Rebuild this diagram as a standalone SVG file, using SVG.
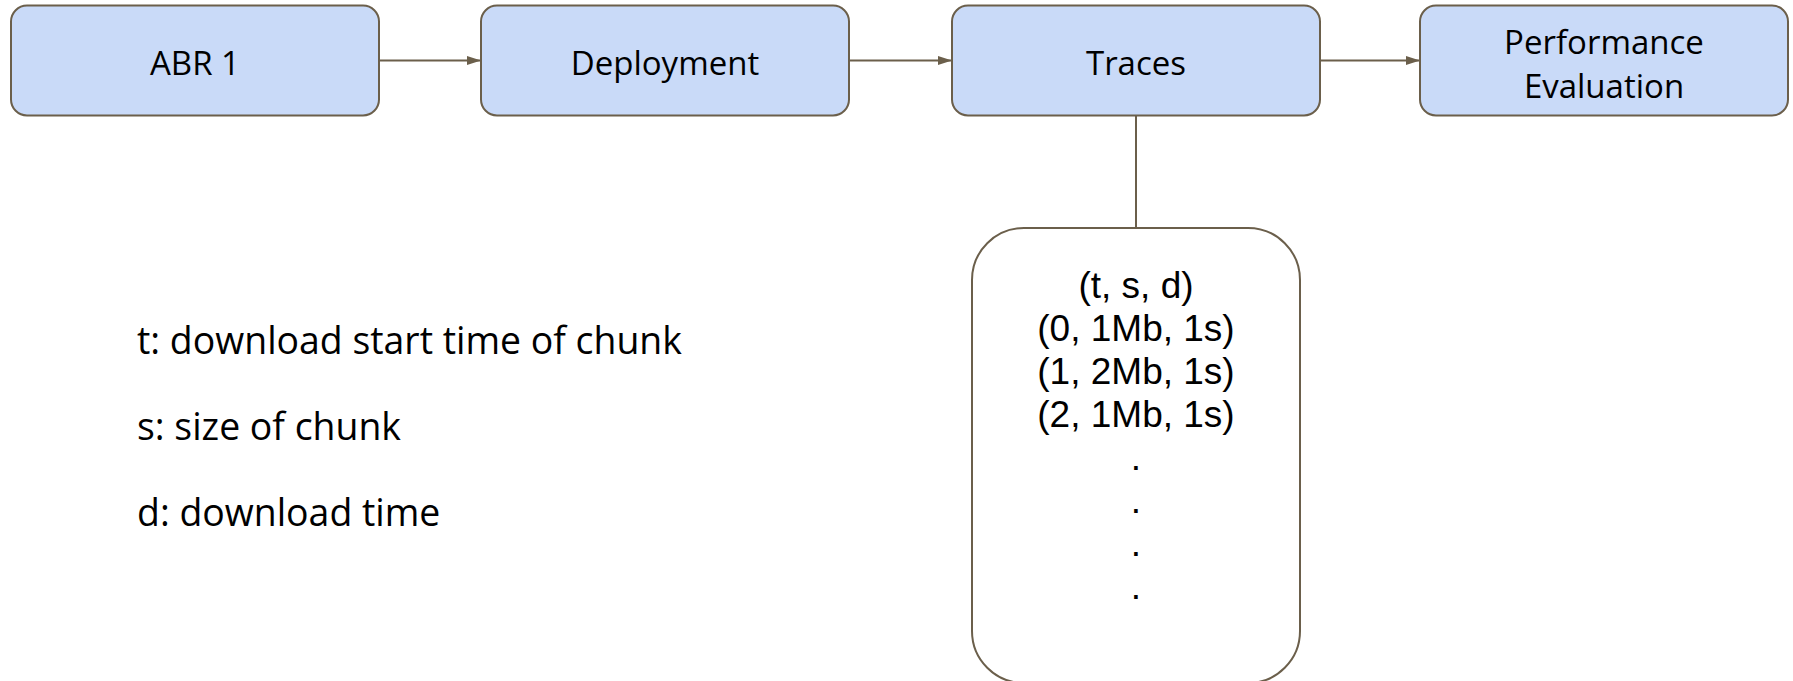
<svg xmlns="http://www.w3.org/2000/svg" width="1793" height="681" viewBox="0 0 1793 681">
  <style>
    .box { fill: #c9daf8; stroke: #6b5f4b; stroke-width: 2; }
    .list { fill: #ffffff; stroke: #6b5f4b; stroke-width: 2; }
    .edge { fill: none; stroke: #6b5f4b; stroke-width: 2; }
    .label { font-family: "Open Sans", "Noto Sans", sans-serif; font-size: 33px; fill: #000000; text-anchor: middle; }
    .note { font-family: "Open Sans", "Noto Sans", sans-serif; font-size: 37.4px; fill: #000000; }
    .rows { font-family: "Liberation Sans", Arial, sans-serif; font-size: 37px; fill: #000000; text-anchor: middle; }
  </style>
  <defs>
    <marker id="arrow" markerWidth="15" markerHeight="12" refX="14" refY="6" orient="auto" markerUnits="userSpaceOnUse">
      <path d="M0,1.5 L14,6 L0,10.5 Z" fill="#6b5f4b"/>
    </marker>
  </defs>

  <rect width="1793" height="681" fill="#ffffff"/>

  <!-- connectors -->
  <g id="connectors">
    <line class="edge" x1="379" y1="60.5" x2="481" y2="60.5" marker-end="url(#arrow)"/>
    <line class="edge" x1="849" y1="60.5" x2="952" y2="60.5" marker-end="url(#arrow)"/>
    <line class="edge" x1="1320" y1="60.5" x2="1420" y2="60.5" marker-end="url(#arrow)"/>
    <line class="edge" x1="1136" y1="116" x2="1136" y2="228"/>
  </g>

  <!-- pipeline stages -->
  <g id="abr1">
    <rect class="box" x="11" y="5.5" width="368" height="110" rx="16"/>
    <text class="label" x="195" y="75">ABR 1</text>
  </g>
  <g id="deployment">
    <rect class="box" x="481" y="5.5" width="368" height="110" rx="16"/>
    <text class="label" x="665" y="75">Deployment</text>
  </g>
  <g id="traces">
    <rect class="box" x="952" y="5.5" width="368" height="110" rx="16"/>
    <text class="label" x="1136" y="75">Traces</text>
  </g>
  <g id="performance-evaluation">
    <rect class="box" x="1420" y="5.5" width="368" height="110" rx="16"/>
    <text class="label" x="1604" y="54">Performance</text>
    <text class="label" x="1604" y="98">Evaluation</text>
  </g>

  <!-- trace records -->
  <g id="trace-list">
    <rect class="list" x="972" y="228" width="328" height="455" rx="52"/>
    <text class="rows" x="1136" y="298">(t, s, d)</text>
    <text class="rows" x="1136" y="341">(0, 1Mb, 1s)</text>
    <text class="rows" x="1136" y="384">(1, 2Mb, 1s)</text>
    <text class="rows" x="1136" y="427">(2, 1Mb, 1s)</text>
    <text class="rows" x="1136" y="470">.</text>
    <text class="rows" x="1136" y="513">.</text>
    <text class="rows" x="1136" y="556">.</text>
    <text class="rows" x="1136" y="599">.</text>
  </g>

  <!-- field legend -->
  <g id="legend">
    <text class="note" x="137" y="354">t: download start time of chunk</text>
    <text class="note" x="137" y="440">s: size of chunk</text>
    <text class="note" x="137" y="526">d: download time</text>
  </g>
</svg>
